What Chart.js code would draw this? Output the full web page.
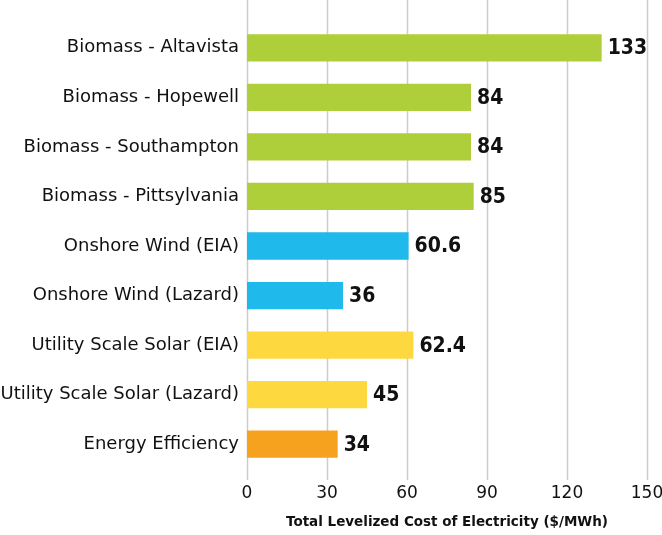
<!DOCTYPE html>
<html>
<head>
<meta charset="utf-8">
<script src="https://cdn.jsdelivr.net/npm/chart.js@4"></script>
<style>
  html, body { margin: 0; padding: 0; background: #fff; }
  #wrap { width: 662px; height: 535px; }
</style>
</head>
<body>
<div id="wrap"><canvas id="costChart" width="662" height="535"></canvas></div>
<script>
const categories = [
    'Biomass - Altavista',
    'Biomass - Hopewell',
    'Biomass - Southampton',
    'Biomass - Pittsylvania',
    'Onshore Wind (EIA)',
    'Onshore Wind (Lazard)',
    'Utility Scale Solar (EIA)',
    'Utility Scale Solar (Lazard)',
    'Energy Efficiency'
];
const costs = [133, 84, 84, 85, 60.6, 36, 62.4, 45, 34];
const costLabels = ['133', '84', '84', '85', '60.6', '36', '62.4', '45', '34'];
const barColors = [
    '#aecf3a', '#aecf3a', '#aecf3a', '#aecf3a',
    '#20b9ec', '#20b9ec',
    '#fdd93f', '#fdd93f',
    '#f7a21f'
];
const xTicks = [0, 30, 60, 90, 120, 150];
const axisTitle = 'Total Levelized Cost of Electricity ($/MWh)';

const FONT = '"DejaVu Sans", sans-serif';
const STRETCH = 'condensed';

// vertical grid lines, running from the top of the canvas down past the axis
const gridLines = {
    id: 'gridLines',
    beforeDatasetsDraw(chart) {
        const { ctx, chartArea, scales } = chart;
        ctx.save();
        ctx.strokeStyle = '#cccccc';
        ctx.lineWidth = 1.5;
        xTicks.forEach(function (v) {
            const x = Math.round(scales.x.getPixelForValue(v)) + 0.5;
            ctx.beginPath();
            ctx.moveTo(x, 0);
            ctx.lineTo(x, chartArea.bottom + 11);
            ctx.stroke();
        });
        ctx.restore();
    }
};

// value labels after each bar end
const valueLabels = {
    id: 'valueLabels',
    afterDatasetsDraw(chart) {
        const { ctx } = chart;
        const meta = chart.getDatasetMeta(0);
        ctx.save();
        ctx.font = STRETCH + ' bold 21px ' + FONT;
        ctx.fillStyle = '#111111';
        ctx.textBaseline = 'middle';
        ctx.textAlign = 'left';
        meta.data.forEach(function (bar, i) {
            ctx.fillText(costLabels[i], bar.x + 6, bar.y + 1);
        });
        ctx.restore();
    }
};

new Chart(document.getElementById('costChart'), {
    type: 'bar',
    data: {
        labels: categories,
        datasets: [{
            data: costs,
            backgroundColor: barColors,
            borderWidth: 0,
            barPercentage: 0.55,
            categoryPercentage: 1.0
        }]
    },
    options: {
        indexAxis: 'y',
        responsive: false,
        animation: false,
        events: [],
        layout: { padding: { top: 23, right: 15, bottom: 0, left: 0 } },
        plugins: {
            legend: { display: false },
            tooltip: { enabled: false }
        },
        scales: {
            x: {
                min: 0,
                max: 150,
                afterBuildTicks(scale) {
                    scale.ticks = xTicks.map(v => ({ value: v }));
                },
                afterFit(scale) {
                    scale.height = 66;
                    scale.paddingLeft = 0;
                    scale.paddingRight = 0;
                },
                grid: { display: false },
                border: { display: false },
                ticks: {
                    padding: 6,
                    color: '#111111',
                    font: { family: FONT, size: 17, style: STRETCH }
                },
                title: {
                    display: true,
                    text: axisTitle,
                    color: '#111111',
                    font: { family: FONT, size: 13.5, weight: 'bold', style: STRETCH },
                    padding: { top: 1, bottom: 4 }
                }
            },
            y: {
                afterFit(scale) { scale.width = 247; },
                grid: { display: false },
                border: { display: false },
                ticks: {
                    padding: 0,
                    color: '#111111',
                    font: { family: FONT, size: 18, style: STRETCH }
                }
            }
        }
    },
    plugins: [gridLines, valueLabels]
});
</script>
</body>
</html>
